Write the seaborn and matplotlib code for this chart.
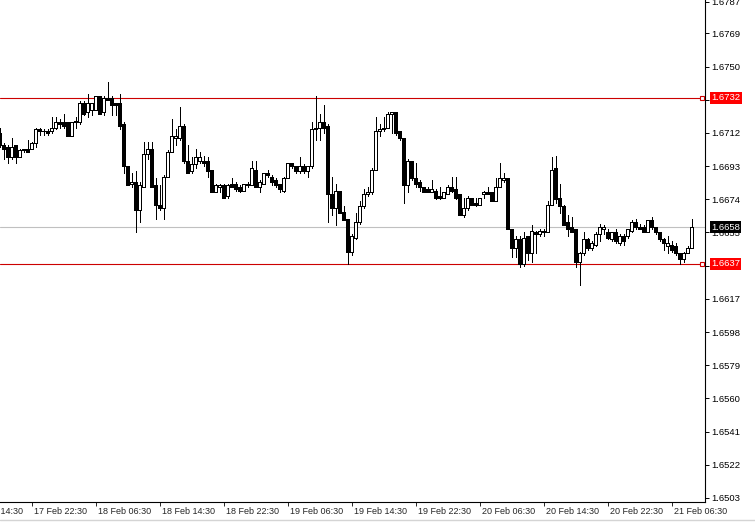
import numpy as np
import pandas as pd
import matplotlib
matplotlib.use("Agg")
import matplotlib.pyplot as plt
import matplotlib.transforms as mtrans
from matplotlib.lines import Line2D
import seaborn as sns

# GBPUSD M30, bars from 17 Feb 18:30
first_bar = "2014-02-17 18:30"

opens = [1.6712, 1.6705, 1.6704, 1.6698, 1.6705, 1.6698, 1.6703, 1.6703, 1.6703, 1.6706,
         1.6714, 1.6713, 1.6713, 1.6713, 1.6715, 1.6718, 1.6718, 1.6718, 1.6710, 1.6719,
         1.6718, 1.6729, 1.6724, 1.6725, 1.6725, 1.6733, 1.6724, 1.6732, 1.6732, 1.6729,
         1.6729, 1.6717, 1.6693, 1.6683, 1.6684, 1.6668, 1.6681, 1.6700, 1.6703, 1.6682,
         1.6671, 1.6669, 1.6687, 1.6701, 1.6709, 1.6709, 1.6716, 1.6696, 1.6690, 1.6694,
         1.6696, 1.6696, 1.6696, 1.6691, 1.6678, 1.6681, 1.6682, 1.6676, 1.6683, 1.6683,
         1.6681, 1.6679, 1.6683, 1.6682, 1.6691, 1.6681, 1.6683, 1.6689, 1.6687, 1.6685,
         1.6683, 1.6679, 1.6686, 1.6695, 1.6693, 1.6690, 1.6693, 1.6690, 1.6693, 1.6714,
         1.6715, 1.6718, 1.6716, 1.6677, 1.6669, 1.6679, 1.6667, 1.6663, 1.6644, 1.6652,
         1.6661, 1.6670, 1.6677, 1.6678, 1.6691, 1.6713, 1.6714, 1.6715, 1.6723, 1.6724,
         1.6713, 1.6709, 1.6682, 1.6696, 1.6686, 1.6684, 1.6681, 1.6680, 1.6678, 1.6679,
         1.6676, 1.6675, 1.6677, 1.6681, 1.6680, 1.6677, 1.6665, 1.6669, 1.6675, 1.6672,
         1.6671, 1.6677, 1.6678, 1.6678, 1.6673, 1.6681, 1.6685, 1.6686, 1.6657, 1.6646,
         1.6651, 1.6637, 1.6653, 1.6643, 1.6655, 1.6654, 1.6656, 1.6655, 1.6671, 1.6692,
         1.6675, 1.6670, 1.6661, 1.6658, 1.6657, 1.6638, 1.6643, 1.6651, 1.6646, 1.6648,
         1.6654, 1.6657, 1.6655, 1.6651, 1.6655, 1.6649, 1.6653, 1.6653, 1.6656, 1.6661,
         1.6658, 1.6658, 1.6655, 1.6662, 1.6658, 1.6655, 1.6651, 1.6647, 1.6648, 1.6647,
         1.6643, 1.6640, 1.6643, 1.6646]

highs = [1.6715, 1.6706, 1.6705, 1.6709, 1.6705, 1.6703, 1.6703, 1.6708, 1.6707, 1.6715,
         1.6715, 1.6714, 1.6714, 1.6721, 1.6721, 1.6720, 1.6723, 1.6718, 1.6718, 1.6721,
         1.6730, 1.6730, 1.6734, 1.6729, 1.6733, 1.6733, 1.6733, 1.6741, 1.6733, 1.6729,
         1.6734, 1.6718, 1.6693, 1.6689, 1.6690, 1.6684, 1.6707, 1.6707, 1.6707, 1.6686,
         1.6682, 1.6688, 1.6702, 1.6720, 1.6714, 1.6727, 1.6717, 1.6705, 1.6698, 1.6703,
         1.6701, 1.6699, 1.6698, 1.6691, 1.6683, 1.6683, 1.6683, 1.6683, 1.6686, 1.6684,
         1.6682, 1.6683, 1.6684, 1.6696, 1.6696, 1.6685, 1.6689, 1.6691, 1.6688, 1.6686,
         1.6683, 1.6687, 1.6695, 1.6695, 1.6693, 1.6698, 1.6694, 1.6693, 1.6718, 1.6733,
         1.6723, 1.6728, 1.6717, 1.6687, 1.6683, 1.6679, 1.6670, 1.6663, 1.6654, 1.6666,
         1.6673, 1.6680, 1.6681, 1.6692, 1.6721, 1.6717, 1.6721, 1.6724, 1.6724, 1.6724,
         1.6713, 1.6709, 1.6697, 1.6696, 1.6695, 1.6685, 1.6681, 1.6681, 1.6685, 1.6680,
         1.6681, 1.6678, 1.6682, 1.6687, 1.6687, 1.6677, 1.6675, 1.6676, 1.6675, 1.6675,
         1.6675, 1.6679, 1.6681, 1.6678, 1.6686, 1.6695, 1.6689, 1.6686, 1.6657, 1.6653,
         1.6653, 1.6655, 1.6653, 1.6659, 1.6656, 1.6657, 1.6657, 1.6673, 1.6698, 1.6699,
         1.6683, 1.6671, 1.6665, 1.6664, 1.6657, 1.6644, 1.6655, 1.6652, 1.6650, 1.6655,
         1.6660, 1.6659, 1.6657, 1.6655, 1.6657, 1.6654, 1.6654, 1.6657, 1.6662, 1.6663,
         1.6660, 1.6659, 1.6662, 1.6664, 1.6658, 1.6655, 1.6652, 1.6653, 1.6650, 1.6649,
         1.6643, 1.6644, 1.6647, 1.6663]

lows = [1.6704, 1.6697, 1.6695, 1.6697, 1.6695, 1.6698, 1.6701, 1.6701, 1.6703, 1.6704,
        1.6711, 1.6711, 1.6711, 1.6712, 1.6714, 1.6715, 1.6715, 1.6710, 1.6710, 1.6715,
        1.6717, 1.6722, 1.6721, 1.6722, 1.6725, 1.6723, 1.6722, 1.6731, 1.6722, 1.6722,
        1.6714, 1.6689, 1.6682, 1.6681, 1.6655, 1.6661, 1.6681, 1.6697, 1.6681, 1.6663,
        1.6668, 1.6663, 1.6687, 1.6701, 1.6705, 1.6708, 1.6695, 1.6689, 1.6689, 1.6692,
        1.6695, 1.6693, 1.6687, 1.6678, 1.6678, 1.6678, 1.6675, 1.6675, 1.6681, 1.6679,
        1.6678, 1.6679, 1.6681, 1.6682, 1.6681, 1.6678, 1.6683, 1.6687, 1.6682, 1.6681,
        1.6678, 1.6678, 1.6686, 1.6692, 1.6689, 1.6689, 1.6689, 1.6687, 1.6692, 1.6708,
        1.6708, 1.6712, 1.6661, 1.6665, 1.6659, 1.6666, 1.6662, 1.6637, 1.6642, 1.6651,
        1.6660, 1.6669, 1.6676, 1.6677, 1.6691, 1.6710, 1.6713, 1.6715, 1.6712, 1.6711,
        1.6708, 1.6672, 1.6678, 1.6685, 1.6681, 1.6679, 1.6678, 1.6678, 1.6678, 1.6674,
        1.6674, 1.6675, 1.6677, 1.6678, 1.6674, 1.6665, 1.6664, 1.6668, 1.6671, 1.6670,
        1.6671, 1.6675, 1.6677, 1.6673, 1.6673, 1.6681, 1.6684, 1.6657, 1.6641, 1.6641,
        1.6635, 1.6636, 1.6639, 1.6638, 1.6643, 1.6653, 1.6653, 1.6655, 1.6671, 1.6672,
        1.6666, 1.6659, 1.6653, 1.6655, 1.6635, 1.6625, 1.6642, 1.6645, 1.6645, 1.6647,
        1.6650, 1.6654, 1.6651, 1.6650, 1.6649, 1.6648, 1.6648, 1.6652, 1.6655, 1.6657,
        1.6657, 1.6655, 1.6655, 1.6657, 1.6654, 1.6650, 1.6645, 1.6643, 1.6644, 1.6642,
        1.6637, 1.6638, 1.6643, 1.6646]

closes = [1.6705, 1.6703, 1.6698, 1.6704, 1.6698, 1.6702, 1.6702, 1.6701, 1.6706, 1.6714,
          1.6713, 1.6713, 1.6712, 1.6715, 1.6718, 1.6717, 1.6716, 1.6710, 1.6718, 1.6718,
          1.6729, 1.6723, 1.6729, 1.6729, 1.6733, 1.6723, 1.6732, 1.6731, 1.6728, 1.6728,
          1.6716, 1.6693, 1.6682, 1.6684, 1.6668, 1.6682, 1.6700, 1.6703, 1.6681, 1.6671,
          1.6669, 1.6687, 1.6701, 1.6710, 1.6710, 1.6716, 1.6696, 1.6689, 1.6694, 1.6698,
          1.6698, 1.6695, 1.6690, 1.6678, 1.6682, 1.6682, 1.6675, 1.6682, 1.6681, 1.6680,
          1.6679, 1.6683, 1.6682, 1.6692, 1.6681, 1.6684, 1.6689, 1.6688, 1.6684, 1.6682,
          1.6680, 1.6686, 1.6695, 1.6693, 1.6690, 1.6693, 1.6690, 1.6693, 1.6714, 1.6715,
          1.6718, 1.6715, 1.6677, 1.6669, 1.6679, 1.6666, 1.6662, 1.6644, 1.6653, 1.6661,
          1.6670, 1.6677, 1.6678, 1.6691, 1.6713, 1.6714, 1.6715, 1.6723, 1.6724, 1.6712,
          1.6709, 1.6682, 1.6696, 1.6686, 1.6683, 1.6681, 1.6678, 1.6678, 1.6680, 1.6675,
          1.6675, 1.6678, 1.6681, 1.6679, 1.6675, 1.6665, 1.6669, 1.6675, 1.6671, 1.6671,
          1.6675, 1.6678, 1.6677, 1.6673, 1.6681, 1.6686, 1.6686, 1.6657, 1.6646, 1.6651,
          1.6637, 1.6652, 1.6643, 1.6656, 1.6654, 1.6656, 1.6655, 1.6671, 1.6691, 1.6674,
          1.6670, 1.6659, 1.6657, 1.6655, 1.6638, 1.6643, 1.6651, 1.6646, 1.6649, 1.6654,
          1.6658, 1.6658, 1.6652, 1.6655, 1.6650, 1.6653, 1.6650, 1.6657, 1.6661, 1.6658,
          1.6657, 1.6655, 1.6662, 1.6658, 1.6655, 1.6651, 1.6649, 1.6649, 1.6645, 1.6643,
          1.6640, 1.6643, 1.6646, 1.6658]

price_ticks = [1.6503, 1.6522, 1.6541, 1.6560, 1.6579, 1.6598, 1.6617, 1.6636,
               1.6655, 1.6674, 1.6693, 1.6712, 1.6731, 1.6750, 1.6769, 1.6787]
level_lines = [1.6732, 1.6637]
bid_price = 1.6658

RED_LINE = "#cc0000"
RED_BOX = "#ff0000"
FS = 6.8

sns.set_style("white")
plt.rcParams['font.family'] = ['Liberation Sans', 'DejaVu Sans']

times = pd.date_range(first_bar, periods=len(opens), freq="30min")
df = pd.DataFrame({"open": opens, "high": highs, "low": lows, "close": closes}, index=times)
df["pos"] = np.arange(len(df))
up = df.close >= df.open
dn = ~up

fig = plt.figure(figsize=(7.55, 5.22), dpi=100)
ax = fig.add_axes([0, 20 / 522, 705 / 755, 502 / 522])

# candles
ax.vlines(df.pos, df.low, df.high, color="black", lw=0.7, zorder=2, antialiased=False)
ax.bar(df.pos[up], (df.close - df.open)[up], bottom=df.open[up], width=0.8,
       color="white", edgecolor="black", lw=0.55, zorder=3, antialiased=False)
ax.bar(df.pos[dn], (df.open - df.close)[dn], bottom=df.close[dn], width=0.8,
       color="black", edgecolor="black", lw=0.55, zorder=3, antialiased=False)

# horizontal levels
trans = mtrans.blended_transform_factory(ax.transAxes, ax.transData)
for lvl in level_lines:
    ax.axhline(lvl, color=RED_LINE, lw=0.8, zorder=1)
    ax.plot([0.996], [lvl], marker="s", ms=3.2, mfc="white", mec=RED_LINE, mew=0.8,
            transform=trans, clip_on=False, zorder=4)
    ax.annotate(f"{lvl:.4f}", xy=(1, lvl), xycoords=trans, xytext=(6, 0),
                textcoords="offset pixels", ha="left", va="center", color="white",
                fontsize=FS, annotation_clip=False,
                bbox=dict(boxstyle="square,pad=0.15", fc=RED_BOX, ec="none"))
ax.axhline(bid_price, color="#c0c0c0", lw=0.8, zorder=1)
ax.annotate(f"{bid_price:.4f}", xy=(1, bid_price), xycoords=trans, xytext=(6, 0),
            textcoords="offset pixels", ha="left", va="center", color="white",
            fontsize=FS, annotation_clip=False,
            bbox=dict(boxstyle="square,pad=0.15", fc="black", ec="none"))

# price axis; labels hidden behind the level boxes are left blank
hidden = set(level_lines)
ax.yaxis.tick_right()
ax.set_yticks(price_ticks)
ax.set_yticklabels(["" if min(abs(t - h) for h in hidden) < 0.0003 else f"{t:.4f}"
                    for t in price_ticks])
ax.tick_params(axis="y", length=3, width=0.7, pad=1.5, labelsize=FS, colors="black",
               direction="out", right=True, left=False)

# time axis: 8-hour marks, labels to the right of each mark
tick_pos = np.arange(-8, len(df), 16)
ax.set_xticks(tick_pos)
ax.set_xticklabels([])
ax.tick_params(axis="x", length=3, width=0.7, direction="out", bottom=True)
t0 = times[0]
for p in tick_pos:
    lbl = (t0 + pd.Timedelta(minutes=30 * int(p))).strftime("%d %b %H:%M")
    ax.annotate(lbl, xy=(p, 0), xycoords=("data", "axes fraction"), xytext=(2, -5),
                textcoords="offset pixels", ha="left", va="top", fontsize=6.5,
                annotation_clip=False)

ax.set_xlim(0.125, 176.375)
ax.set_ylim(1.65007, 1.67881)

for s in ["left", "top"]:
    ax.spines[s].set_visible(False)
for s in ["right", "bottom"]:
    ax.spines[s].set_color("black")
    ax.spines[s].set_linewidth(0.8)

fig.add_artist(Line2D([0, 1], [2 / 522, 2 / 522], color="#d4d4d4", lw=1))

fig.savefig("out.png", dpi=100)
